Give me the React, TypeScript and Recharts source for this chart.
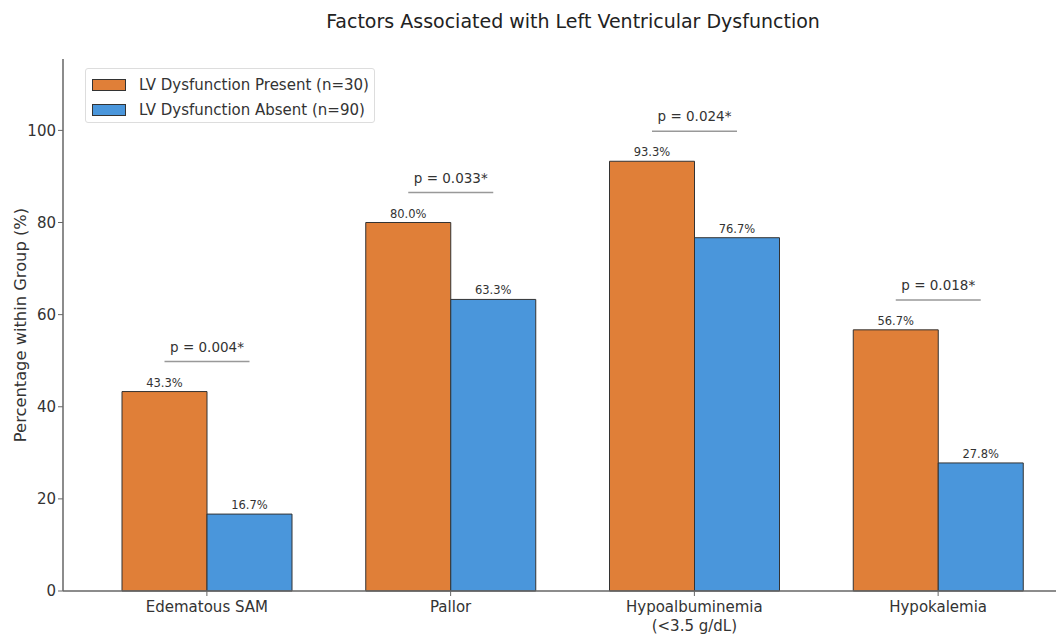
import React from "react";
import { BarChart, Bar, XAxis, YAxis, LabelList, Label } from "recharts";

const categories = ["Edematous SAM", "Pallor", "Hypoalbuminemia\n(<3.5 g/dL)", "Hypokalemia"];
const presentValues = [43.3, 80.0, 93.3, 56.7];
const absentValues = [16.7, 63.3, 76.7, 27.8];
const pLabels = ["p = 0.004*", "p = 0.033*", "p = 0.024*", "p = 0.018*"];
const yTicks = [0, 20, 40, 60, 80, 100];
const legendLabels = ["LV Dysfunction Present (n=30)", "LV Dysfunction Absent (n=90)"];

const ORANGE = "#E07F38";
const BLUE = "#4A96DB";
const FONT = "'DejaVu Sans', sans-serif";

const data = categories.map((c, i) => ({
  name: c,
  present: presentValues[i],
  absent: absentValues[i],
  p: pLabels[i],
}));

const XTick = (props: any) => {
  const { x, y, payload } = props;
  const lines = String(payload.value).split("\n");
  return (
    <g>
      {lines.map((l: string, i: number) => (
        <text key={i} x={x} y={y + 14 + i * 19} textAnchor="middle" fontSize={15} fill="#333" fontFamily={FONT}>
          {l}
        </text>
      ))}
    </g>
  );
};

const PAnnotation = (props: any) => {
  const { x, y, width, height, value, index } = props;
  if (index == null || !value) return null;
  const ppu = height / value;
  const bottom = y + height;
  const level = Math.max(presentValues[index], absentValues[index]) + 6.5;
  const ly = bottom - level * ppu;
  return (
    <g>
      <line x1={x + width / 2} x2={x + width * 1.5} y1={ly} y2={ly} stroke="#999" strokeWidth={1.5} />
      <text x={x + width} y={ly - 10} textAnchor="middle" fontSize={13.5} fill="#333" fontFamily={FONT}>
        {pLabels[index]}
      </text>
    </g>
  );
};

const YLabel = (props: any) => {
  const vb = props.viewBox || {};
  const cy = (vb.y ?? 59) + (vb.height ?? 532) / 2;
  const cx = 20.5;
  return (
    <text
      x={cx}
      y={cy}
      transform={`rotate(-90 ${cx} ${cy})`}
      textAnchor="middle"
      dominantBaseline="central"
      fontSize={16.3}
      fill="#333"
      fontFamily={FONT}
    >
      Percentage within Group (%)
    </text>
  );
};

export default function App() {
  return (
    <div style={{ position: "fixed", left: 0, top: 0, width: 1056, height: 635, overflow: "hidden", background: "#fff", fontFamily: FONT }}>
      <div style={{ position: "absolute", left: 0, width: 1146, top: 10, textAlign: "center", fontSize: 19, color: "#222", whiteSpace: "nowrap" }}>
        Factors Associated with Left Ventricular Dysfunction
      </div>
      <div style={{ position: "absolute", left: 0, top: 0 }}>
        <BarChart width={1100} height={635} data={data} margin={{ top: 59, right: 18, bottom: 4, left: 0 }} barGap={0} barSize={85}>
          <XAxis
            xAxisId="top"
            orientation="top"
            dataKey="name"
            tick={false}
            tickLine={false}
            height={0}
            axisLine={{ stroke: "#666", strokeWidth: 1.5 }}
          />
          <XAxis
            dataKey="name"
            tick={<XTick />}
            interval={0}
            height={40}
            padding={{ left: 22, right: 22 }}
            axisLine={{ stroke: "#666", strokeWidth: 1.5 }}
            tickLine={{ stroke: "#666" }}
            tickSize={5}
          />
          <YAxis
            domain={[0, 115.5]}
            ticks={yTicks}
            width={63}
            tick={{ fontSize: 15, fill: "#333", fontFamily: FONT }}
            axisLine={{ stroke: "#666", strokeWidth: 1.5 }}
            tickLine={{ stroke: "#666" }}
            tickSize={5}
          >
            <Label content={<YLabel />} />
          </YAxis>
          <Bar dataKey="present" fill={ORANGE} stroke="#333" strokeWidth={1} isAnimationActive={false}>
            <LabelList dataKey="present" position="top" offset={5} formatter={(v: any) => `${Number(v).toFixed(1)}%`} style={{ fontSize: 11.5, fill: "#333", fontFamily: FONT }} />
            <LabelList dataKey="present" content={<PAnnotation />} />
          </Bar>
          <Bar dataKey="absent" fill={BLUE} stroke="#333" strokeWidth={1} isAnimationActive={false}>
            <LabelList dataKey="absent" position="top" offset={5} formatter={(v: any) => `${Number(v).toFixed(1)}%`} style={{ fontSize: 11.5, fill: "#333", fontFamily: FONT }} />
          </Bar>
        </BarChart>
      </div>
      <div style={{ position: "absolute", left: 85, top: 68, width: 290, height: 55, border: "1px solid #ddd", borderRadius: 3, boxSizing: "border-box", background: "#fff" }}>
        {[ORANGE, BLUE].map((c, i) => (
          <div key={i} style={{ position: "absolute", left: 6, top: 5 + i * 24.5, height: 22, display: "flex", alignItems: "center", fontSize: 15, color: "#333", whiteSpace: "nowrap" }}>
            <span style={{ display: "inline-block", width: 32, height: 10, background: c, border: "1px solid #333", marginRight: 13 }} />
            {legendLabels[i]}
          </div>
        ))}
      </div>
    </div>
  );
}
